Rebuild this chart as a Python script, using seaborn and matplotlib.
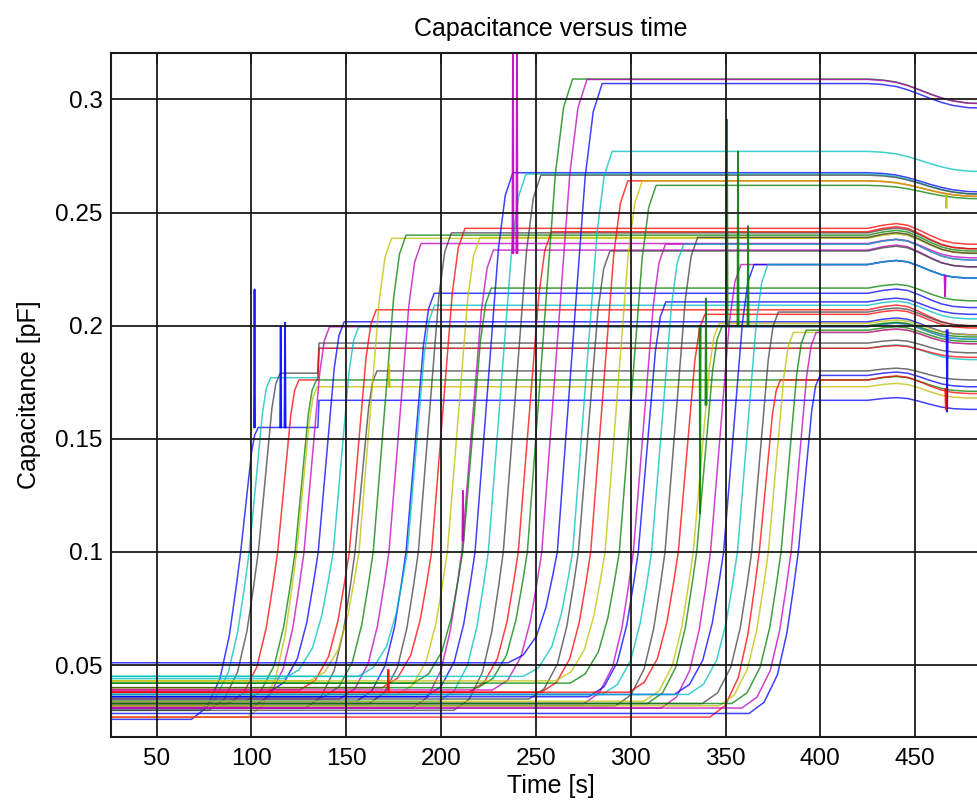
import numpy as np
import pandas as pd
import matplotlib
matplotlib.use("Agg")
import matplotlib.pyplot as plt
import seaborn as sns

sns.set_style("white")
plt.rcParams["font.family"] = ["Liberation Sans", "DejaVu Sans"]
plt.rcParams["text.color"] = "black"
plt.rcParams["axes.labelcolor"] = "black"

# MATLAB-style line colours
COLORS = {"b": "#0000FF", "g": "#008000", "r": "#FF0000", "c": "#00BFBF",
          "m": "#BF00BF", "y": "#BFBF00", "k": "#404040"}

# One entry per sample, in the order the capacitance jumps
curve_color = ["b", "c", "k", "r", "g", "y", "m", "b", "c", "r",
               "k", "y", "g", "m", "b", "c", "k", "r", "y", "m",
               "g", "b", "c", "k", "r", "g", "m", "b", "c", "k",
               "r", "y", "g", "m", "b", "c", "k", "r", "y", "g",
               "m", "b", "c", "k", "r", "y", "g", "m", "b"]
# time [s] where each curve passes 0.1 pF
t_cross = [94.3, 98.8, 103.6, 113.8, 123.0, 123.8, 127.7, 135.2, 143.1, 151.6,
           154.6, 156.7, 164.2, 172.5, 181.5, 182.2, 188.0, 195.0, 203.3, 210.9,
           211.4, 217.9, 224.9, 232.8, 240.7, 245.5, 253.1, 261.3, 269.4, 272.4,
           278.9, 286.5, 294.0, 301.4, 304.0, 311.0, 318.1, 325.1, 333.0, 334.8,
           342.1, 349.0, 356.3, 363.8, 367.8, 372.6, 379.3, 384.6, 388.4]
# level before the jump [pF]
base = [0.026, 0.030, 0.030, 0.033, 0.034, 0.027, 0.032, 0.038, 0.044, 0.039,
        0.031, 0.043, 0.036, 0.035, 0.034, 0.045, 0.033, 0.040, 0.037, 0.031,
        0.042, 0.036, 0.034, 0.030, 0.038, 0.040, 0.039, 0.051, 0.045, 0.035,
        0.038, 0.043, 0.042, 0.033, 0.036, 0.037, 0.032, 0.038, 0.034, 0.033,
        0.031, 0.037, 0.037, 0.033, 0.027, 0.032, 0.033, 0.031, 0.0286]
# level after the jump [pF]
plateau = [0.155, 0.177, 0.179, 0.176, 0.176, 0.173, 0.1995, 0.2017, 0.1995, 0.207,
           0.180, 0.2386, 0.240, 0.2363, 0.2143, 0.209, 0.241, 0.243, 0.239, 0.2334,
           0.2166, 0.2676, 0.267, 0.2665, 0.2415, 0.309, 0.3088, 0.307, 0.277, 0.233,
           0.264, 0.264, 0.262, 0.236, 0.2105, 0.236, 0.239, 0.205, 0.201, 0.200,
           0.227, 0.227, 0.227, 0.206, 0.176, 0.197, 0.198, 0.197, 0.178]
# level at the end of the run [pF]
final = [0.163, 0.185, 0.188, 0.186, 0.171, 0.168, 0.194, 0.196, 0.194, 0.200,
         0.176, 0.232, 0.233, 0.230, 0.208, 0.203, 0.234, 0.236, 0.232, 0.226,
         0.211, 0.259, 0.258, 0.258, 0.234, 0.298, 0.298, 0.296, 0.268, 0.226,
         0.257, 0.257, 0.256, 0.229, 0.205, 0.229, 0.232, 0.199, 0.196, 0.195,
         0.221, 0.221, 0.221, 0.200, 0.170, 0.192, 0.193, 0.192, 0.173]
# the four early samples shift up together at t = 135 s
step_time = 135.0
step_level = {0: 0.167, 1: 0.190, 2: 0.1923, 3: 0.190}

# short transient spikes: time, from level, to level, colour
spike_t = [101.6, 115.4, 117.7, 237.9, 240.0, 172.6, 172.2, 336.6, 339.7,
           350.8, 356.6, 361.9, 466.9, 466.2, 465.8, 466.5, 211.5]
spike_from = [0.155, 0.155, 0.155, 0.232, 0.232, 0.173, 0.039, 0.200, 0.165,
              0.200, 0.200, 0.200, 0.198, 0.172, 0.222, 0.258, 0.105]
spike_to = [0.216, 0.1995, 0.2013, 0.33, 0.33, 0.183, 0.048, 0.117, 0.212,
            0.291, 0.277, 0.244, 0.162, 0.163, 0.213, 0.252, 0.127]
spike_color = ["b", "b", "b", "m", "m", "y", "r", "g", "g",
               "g", "g", "g", "b", "r", "m", "y", "m"]

# shape of the jump (seconds relative to the 0.1 pF crossing, fraction)
LOW_DT = [-26.0, -18.0, -11.0, -6.0, -2.5, 0.0]
LOW_F = [0.0, 0.07, 0.24, 0.5, 0.78, 1.0]
# shape of the late drift (time, fraction of the drop); lower levels bulge first
LATE_T = [425.0, 433.0, 440.0, 446.0, 452.0, 458.0, 464.0, 470.0, 478.0, 495.0]
LATE_F_HIGH = [0.0, 0.04, 0.12, 0.25, 0.42, 0.6, 0.76, 0.88, 0.97, 1.0]
LATE_F_LOW = [0.0, -0.2, -0.3, -0.2, 0.1, 0.45, 0.75, 0.92, 1.0, 1.0]

rows = []
for i in range(len(t_cross)):
    b, p, tc, e = base[i], plateau[i], t_cross[i], final[i]
    ts = [15.0] + [tc + d for d in LOW_DT]
    vs = [b] + [b + f * (0.1 - b) for f in LOW_F]
    dur = 4 + (p - 0.1) * 95
    ts += [tc + 0.62 * dur, tc + 0.8 * dur, tc + dur]
    vs += [0.1 + 0.8 * (p - 0.1), 0.1 + 0.94 * (p - 0.1), p]
    level = p
    if i in step_level:
        ts += [step_time, step_time + 0.6]
        vs += [p, step_level[i]]
        level = step_level[i]
    late_f = LATE_F_HIGH if level > 0.25 else LATE_F_LOW
    ts += LATE_T
    vs += [level + f * (e - level) for f in late_f]
    for t, v in zip(ts, vs):
        rows.append((i, t, v))

df = pd.DataFrame(rows, columns=["curve", "t", "v"])
palette = [COLORS[c] for c in curve_color]

fig = plt.figure(figsize=(9.77, 8.10), dpi=100)
ax = fig.add_axes([111 / 977, 73 / 810, 879 / 977, 684 / 810])

sns.lineplot(data=df, x="t", y="v", hue="curve", palette=palette, sort=False,
             estimator=None, legend=False, lw=1.1, alpha=0.75, ax=ax)

for t, a, b2, c in zip(spike_t, spike_from, spike_to, spike_color):
    ax.plot([t - 0.3, t, t + 0.3], [a, b2, a], color=COLORS[c], lw=1.3, alpha=0.9)

ax.set_xlim(25.9, 489.5)
ax.set_ylim(0.0182, 0.3205)
ax.set_xticks([50, 100, 150, 200, 250, 300, 350, 400, 450])
ax.set_yticks([0.05, 0.1, 0.15, 0.2, 0.25, 0.3])
ax.set_yticklabels(["0.05", "0.1", "0.15", "0.2", "0.25", "0.3"])
ax.grid(True, color="#1a1a1a", lw=1.3)
ax.set_axisbelow(False)
for s in ax.spines.values():
    s.set_color("#1a1a1a")
    s.set_linewidth(1.5)
ax.tick_params(direction="in", length=8, width=1.2, top=True, right=True,
               labelsize=17.5, pad=8, colors="#1a1a1a", labelcolor="black")
ax.tick_params(axis="y", pad=6)
ax.set_xlabel("Time [s]", fontsize=18, labelpad=3, color="black")
ax.set_ylabel("Capacitance [pF]", fontsize=18, labelpad=10, color="black")
ax.set_title("Capacitance versus time", fontsize=18, pad=12, color="black")

fig.savefig("out.png", dpi=100)
